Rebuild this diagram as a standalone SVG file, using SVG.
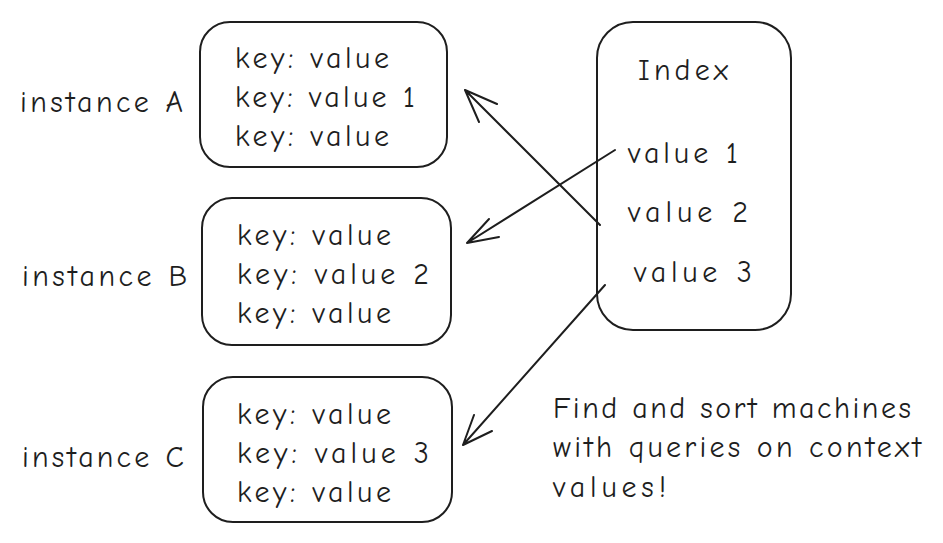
<svg xmlns="http://www.w3.org/2000/svg" width="943" height="543" viewBox="0 0 943 543">
<style>
.b{fill:none;stroke:#1e1e1e;stroke-width:2}
text{font-family:"Comic Neue","Liberation Sans",sans-serif;font-size:30px;fill:#1e1e1e}
.c{stroke:#1e1e1e;stroke-width:2;fill:none;stroke-linecap:round}
</style>
<rect width="943" height="543" fill="#fff"/>
<g id="nodeA"><rect class="b" x="200" y="22" width="247" height="145" rx="30"/>
<text x="235" y="68" textLength="154">key: value</text><text x="235" y="107" textLength="180">key: value 1</text><text x="235" y="146" textLength="154">key: value</text>
<text x="20" y="112" textLength="163">instance A</text></g>
<g id="nodeB"><rect class="b" x="202" y="198" width="249" height="147" rx="30"/>
<text x="237" y="245" textLength="154">key: value</text><text x="237" y="284" textLength="192">key: value 2</text><text x="237" y="323" textLength="154">key: value</text>
<text x="22" y="286" textLength="165">instance B</text></g>
<g id="nodeC"><rect class="b" x="203" y="377" width="249" height="145" rx="30"/>
<text x="237" y="424" textLength="154">key: value</text><text x="237" y="463" textLength="192">key: value 3</text><text x="237" y="502" textLength="154">key: value</text>
<text x="22" y="467" textLength="162">instance C</text></g>
<g id="index"><rect class="b" x="597" y="22" width="194" height="308" rx="36"/>
<text x="638" y="80" textLength="90">Index</text><text x="628" y="163" textLength="110">value 1</text><text x="628" y="222" textLength="120">value 2</text><text x="634" y="282" textLength="118">value 3</text></g>
<g id="note"><text x="553" y="418" textLength="358">Find and sort machines</text><text x="553" y="457" textLength="368">with queries on context</text><text x="553" y="497" textLength="113">values!</text></g>
<g id="connectors">
<path class="c" d="M600 225 L465 90 M465 90 L497 104 M465 90 L479 122"/>
<path class="c" d="M615 150 L467 243 M467 243 L489 219 M467 243 L499 237"/>
<path class="c" d="M605 285 L463 445 M463 445 L474 415 M463 445 L492 431"/>
</g>
</svg>
